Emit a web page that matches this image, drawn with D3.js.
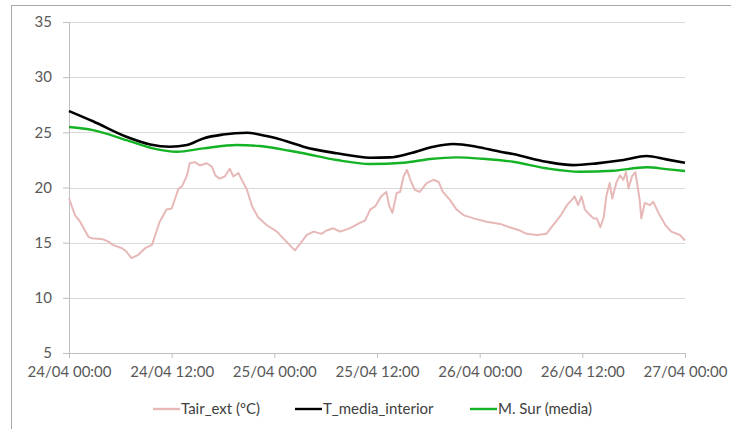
<!DOCTYPE html>
<html>
<head>
<meta charset="utf-8">
<script src="https://cdn.jsdelivr.net/npm/d3@7"></script>
<style>
    body { margin: 0; background: #fff; }
    .axis text { font-family: Lato, "Open Sans", sans-serif; font-size: 15px; fill: #595959; }
    .legend text { font-family: Lato, "Open Sans", sans-serif; font-size: 15px; fill: #404040; }
</style>
</head>
<body>
<div id="chart"></div>
<script>
// x axis: hours from 24/04 00:00
let tickHours = [0, 12, 24, 36, 48, 60, 72];
let tickLabels = ["24/04 00:00", "24/04 12:00", "25/04 00:00", "25/04 12:00", "26/04 00:00", "26/04 12:00", "27/04 00:00"];
let yTicks = [5, 10, 15, 20, 25, 30, 35];

// Tair_ext (ºC)
let tairHours = [0, 0.7, 1.3, 2.3, 2.7, 4.0, 4.6, 5.1, 6.2, 6.7, 7.3, 8.1, 8.9, 9.7, 10.6, 11.4, 12.0, 12.8, 13.2, 13.8,
    14.1, 14.7, 15.3, 16.1, 16.7, 17.1, 17.6, 18.2, 18.8, 19.2, 19.8, 20.4, 20.8, 21.4, 22.1, 23.1, 24.3, 25.4, 26.4, 27.0,
    27.8, 28.6, 29.5, 30.1, 30.9, 31.7, 32.8, 34.0, 34.6, 35.2, 35.8, 36.5, 37.1, 37.4, 37.8, 38.3, 38.7, 39.1, 39.5, 39.9,
    40.4, 41.0, 41.8, 42.6, 43.2, 43.7, 44.5, 45.3, 46.1, 47.3, 48.8, 50.4, 51.5, 52.7, 53.5, 54.7, 55.8, 56.4, 57.0, 57.5,
    58.2, 58.8, 59.1, 59.5, 59.9, 60.3, 60.9, 61.3, 61.7, 62.1, 62.5, 62.8, 63.2, 63.5, 64.0, 64.4, 64.8, 65.1, 65.4, 65.8,
    66.2, 66.4, 66.7, 66.9, 67.3, 67.9, 68.3, 68.9, 69.7, 70.4, 71.4, 72.0];
let tairValues = [19.0, 17.5, 16.9, 15.5, 15.4, 15.3, 15.1, 14.8, 14.5, 14.2, 13.6, 13.9, 14.5, 14.8, 16.9, 18.0, 18.1, 19.9, 20.1, 21.1,
    22.2, 22.3, 22.0, 22.2, 21.9, 21.1, 20.8, 21.0, 21.7, 21.0, 21.3, 20.4, 19.8, 18.3, 17.3, 16.6, 16.0, 15.1, 14.3, 14.9,
    15.7, 16.0, 15.8, 16.1, 16.3, 16.0, 16.3, 16.8, 17.0, 18.0, 18.3, 19.2, 19.6, 18.4, 17.7, 19.5, 19.6, 21.0, 21.6, 20.7,
    19.8, 19.6, 20.4, 20.7, 20.5, 19.6, 18.9, 18.0, 17.5, 17.2, 16.9, 16.7, 16.4, 16.1, 15.8, 15.7, 15.8, 16.4, 17.0, 17.5,
    18.4, 18.9, 19.2, 18.4, 19.2, 18.0, 17.5, 17.2, 17.2, 16.4, 17.3, 19.2, 20.4, 19.0, 20.5, 21.1, 20.7, 21.4, 19.9, 21.0,
    21.4, 20.4, 18.9, 17.2, 18.6, 18.4, 18.7, 17.7, 16.6, 16.0, 15.7, 15.2];

// T_media_interior
let tintHours = [0, 2.8, 6.7, 9.5, 11.8, 13.8, 15.7, 18.0, 20.8, 23.1, 25.6, 27.4, 31.3, 35.2, 37.5, 39.9, 42.6, 44.9, 47.6, 50.4,
    51.9, 55.8, 58.9, 61.7, 64.8, 67.5, 69.8, 72];
let tintValues = [26.93, 26.0, 24.6, 23.9, 23.7, 23.85, 24.45, 24.8, 24.96, 24.66, 24.15, 23.7, 23.1, 22.7, 22.73, 23.1, 23.7, 23.94, 23.7, 23.24,
    23.03, 22.33, 22.03, 22.19, 22.49, 22.85, 22.55, 22.24];

// M. Sur (media)
let surHours = [0, 2.8, 6.7, 9.8, 12.6, 15.7, 19.6, 22.3, 25.8, 27.4, 31.3, 35.2, 39.1, 42.2, 45.3, 48.4, 51.9, 55.8, 59.7, 63.6,
    67.5, 69.8, 72];
let surValues = [25.48, 25.2, 24.3, 23.55, 23.24, 23.55, 23.85, 23.76, 23.33, 23.1, 22.49, 22.13, 22.24, 22.58, 22.73, 22.6, 22.33, 21.74, 21.43, 21.52,
    21.83, 21.67, 21.49];

let seriesNames = ["Tair_ext (ºC)", "T_media_interior", "M. Sur (media)"];
let seriesColors = ["#e6b8b7", "#000000", "#14b325"];

class TempChart {
    constructor(parentElement) {
        this.parentElement = parentElement;
        this.initVis();
    }

    initVis() {
        let vis = this;

        vis.margin = {top: 22, right: 46, bottom: 76, left: 69};
        vis.width = 731 - vis.margin.left - vis.margin.right;
        vis.height = 429 - vis.margin.top - vis.margin.bottom;

        vis.root = d3.select("#" + vis.parentElement).append("svg")
            .attr("width", 731)
            .attr("height", 429);

        // chart frame
        vis.root.append("rect")
            .attr("x", 11.5)
            .attr("y", 5.5)
            .attr("width", 740)
            .attr("height", 440)
            .attr("fill", "none")
            .attr("stroke", "#a6a6a6");

        vis.svg = vis.root.append("g")
            .attr("transform", `translate(${vis.margin.left}, ${vis.margin.top})`);

        vis.x = d3.scaleLinear().domain([0, 72]).range([0, vis.width]);
        vis.y = d3.scaleLinear().domain([5, 35]).range([vis.height, 0]);

        // gridlines
        vis.svg.append("g")
            .selectAll("line")
            .data(yTicks.filter(d => d > 5))
            .enter().append("line")
            .attr("x1", 0)
            .attr("x2", vis.width)
            .attr("y1", d => Math.round(vis.y(d)) + 0.5)
            .attr("y2", d => Math.round(vis.y(d)) + 0.5)
            .attr("stroke", "#d9d9d9");

        vis.yAxis = d3.axisLeft(vis.y).tickValues(yTicks).tickSize(6).tickPadding(11);
        vis.xAxis = d3.axisBottom(vis.x).tickValues(tickHours)
            .tickFormat((d, i) => tickLabels[i]).tickSize(5).tickPadding(8);

        vis.svg.append("g")
            .attr("class", "y-axis axis")
            .call(vis.yAxis);

        vis.svg.append("g")
            .attr("class", "x-axis axis")
            .attr("transform", "translate(0," + vis.height + ")")
            .call(vis.xAxis);

        vis.svg.selectAll(".axis path, .axis line").attr("stroke", "#bfbfbf");

        vis.updateVis();
    }

    updateVis() {
        let vis = this;

        let lineLinear = d3.line()
            .x(d => vis.x(d[0]))
            .y(d => vis.y(d[1]));
        let lineSmooth = d3.line()
            .curve(d3.curveMonotoneX)
            .x(d => vis.x(d[0]))
            .y(d => vis.y(d[1]));

        let tair = tairHours.map((h, i) => [h, tairValues[i]]);
        let tint = tintHours.map((h, i) => [h, tintValues[i]]);
        let sur = surHours.map((h, i) => [h, surValues[i]]);

        vis.svg.append("path")
            .datum(tair)
            .attr("fill", "none")
            .attr("stroke", seriesColors[0])
            .attr("stroke-width", 2)
            .attr("stroke-linejoin", "round")
            .attr("d", lineLinear);

        vis.svg.append("path")
            .datum(tint)
            .attr("fill", "none")
            .attr("stroke", seriesColors[1])
            .attr("stroke-width", 2.6)
            .attr("d", lineSmooth);

        vis.svg.append("path")
            .datum(sur)
            .attr("fill", "none")
            .attr("stroke", seriesColors[2])
            .attr("stroke-width", 2.4)
            .attr("d", lineSmooth);

        // legend
        let legendX = [153, 295, 470];
        let legend = vis.root.append("g").attr("class", "legend");
        let items = legend.selectAll("g")
            .data(seriesNames)
            .enter().append("g")
            .attr("transform", (d, i) => `translate(${legendX[i]}, 409)`);

        items.append("line")
            .attr("x1", 0)
            .attr("x2", 27)
            .attr("stroke", (d, i) => seriesColors[i])
            .attr("stroke-width", 2.4);

        items.append("text")
            .attr("x", 28)
            .attr("dy", "0.35em")
            .text(d => d);
    }
}

new TempChart("chart");
</script>
</body>
</html>
